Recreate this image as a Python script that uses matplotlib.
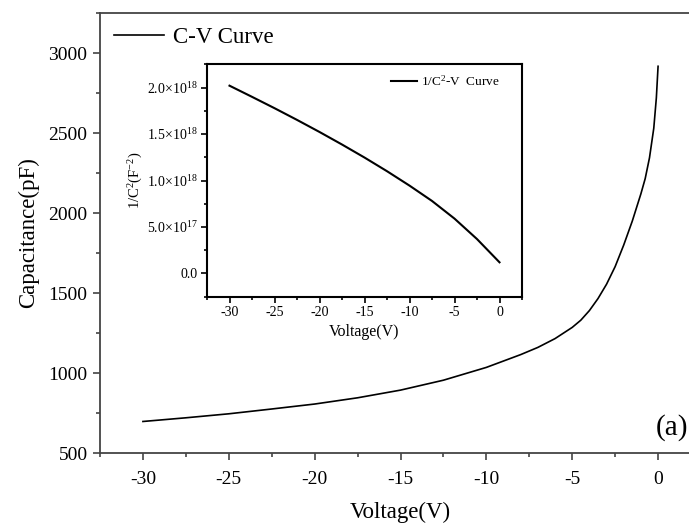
import matplotlib
matplotlib.use("Agg")
import matplotlib.pyplot as plt
from matplotlib.ticker import MultipleLocator, FuncFormatter

plt.rcParams['font.family'] = ['Liberation Serif', 'DejaVu Serif']
plt.rcParams['mathtext.fontset'] = 'custom'
plt.rcParams['mathtext.rm'] = 'Liberation Serif'
plt.rcParams['mathtext.it'] = 'Liberation Serif:italic'

# C-V curve (main)
volt_cv = [-30, -27.5, -25, -22.5, -20, -17.5, -15, -12.5, -10, -9, -8, -7, -6, -5,
           -4.5, -4, -3.5, -3, -2.5, -2, -1.5, -1, -0.75, -0.5, -0.25, -0.1, 0]
cap_pf = [697, 720, 745, 775, 806, 845, 893, 955, 1035, 1075, 1115, 1160, 1215, 1285,
          1330, 1390, 1465, 1555, 1665, 1800, 1950, 2120, 2215, 2345, 2530, 2720, 2917]

# 1/C^2-V curve (inset), units of 1e18 F^-2
volt_inv = [-30, -27.5, -25, -22.5, -20, -17.5, -15, -12.5, -10, -7.5, -5, -2.5, -1, 0]
inv_c2 = [2.02, 1.90, 1.778, 1.652, 1.522, 1.387, 1.247, 1.100, 0.945, 0.780, 0.590, 0.370, 0.220, 0.12]

W, H = 689, 523
fig = plt.figure(figsize=(W / 100, H / 100), dpi=100)

# main axes (right side runs past the figure edge, as in the reference)
ax = fig.add_axes([100 / W, (H - 453) / H, 601 / W, 440 / H])
ax.plot(volt_cv, cap_pf, color='black', lw=1.2, label='C-V Curve')
ax.set_xlim(-32.5, 2.5)
ax.set_ylim(500, 3250)
ax.xaxis.set_major_locator(MultipleLocator(5))
ax.xaxis.set_minor_locator(MultipleLocator(2.5))
ax.yaxis.set_major_locator(MultipleLocator(500))
ax.yaxis.set_minor_locator(MultipleLocator(250))
ax.xaxis.set_major_formatter(FuncFormatter(lambda v, p: '%d' % v))
for s in ax.spines.values():
    s.set_color('#444444')
    s.set_linewidth(1.3)
ax.tick_params(which='both', direction='out', color='#444444', width=1.2, top=False, right=False)
ax.tick_params(which='major', length=5, labelsize=14)
ax.tick_params(axis='x', which='major', pad=8)
ax.tick_params(axis='y', which='major', pad=4)
ax.tick_params(which='minor', length=3)
ax.set_xlabel('Voltage(V)', fontsize=16.5, labelpad=10)
ax.set_ylabel('Capacitance(pF)', fontsize=16.5, labelpad=7)
ax.legend(loc='upper left', frameon=False, fontsize=16.5, handlelength=2.2,
          handletextpad=0.4, borderaxespad=0.2, bbox_to_anchor=(0.0, 1.0))
ax.text(1.75, 660, '(a)', fontsize=21, ha='right', va='center')

# inset
ins = fig.add_axes([207 / W, (H - 296.7) / H, 315 / W, 232.4 / H])
ins.plot(volt_inv, [v * 1e18 for v in inv_c2], color='black', lw=1.5, label='1/C$^2$-V  Curve')
ins.set_xlim(-32.5, 2.5)
ins.set_ylim(-0.25e18, 2.25e18)
ins.xaxis.set_major_locator(MultipleLocator(5))
ins.xaxis.set_minor_locator(MultipleLocator(2.5))
ins.yaxis.set_major_locator(MultipleLocator(0.5e18))
ins.yaxis.set_minor_locator(MultipleLocator(0.25e18))
ins.xaxis.set_major_formatter(FuncFormatter(lambda v, p: '%d' % v))


def sci(v, p):
    if abs(v) < 1e10:
        return '0.0'
    e = 18 if abs(v) >= 1e18 else 17
    return '%.1f\u00d710$^{%d}$' % (v / 10 ** e, e)


ins.yaxis.set_major_formatter(FuncFormatter(sci))
for s in ins.spines.values():
    s.set_color('black')
    s.set_linewidth(1.5)
ins.tick_params(which='both', direction='out', width=1.2, top=False, right=False)
ins.tick_params(which='major', length=4, labelsize=10, pad=3)
ins.tick_params(which='minor', length=2.5)
ins.set_xlabel('Voltage(V)', fontsize=11.5, labelpad=3)
ins.set_ylabel('1/C$^2$(F$^{-2}$)', fontsize=10.5, labelpad=1)
ins.legend(loc='upper right', frameon=False, fontsize=9.5, handlelength=2.0,
           handletextpad=0.3, borderaxespad=0.3, bbox_to_anchor=(0.96, 1.0))

fig.savefig('out.png', dpi=100)
